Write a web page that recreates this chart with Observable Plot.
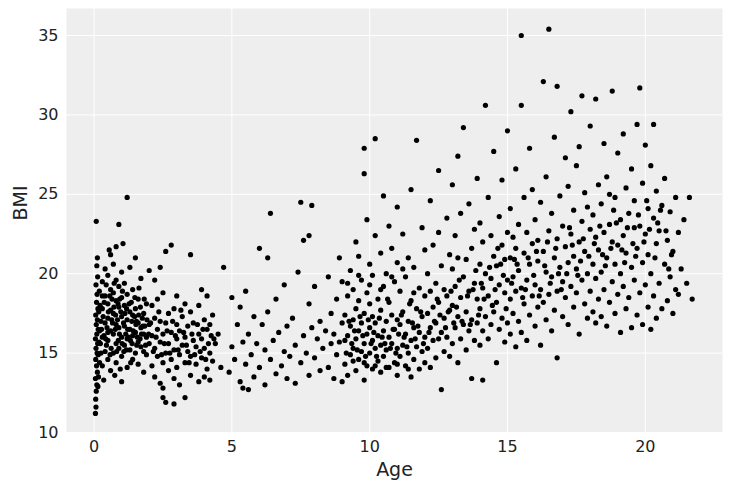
<!DOCTYPE html>
<html>
<head>
<meta charset="utf-8">
<script src="https://cdn.jsdelivr.net/npm/d3@7"></script>
<script src="https://cdn.jsdelivr.net/npm/@observablehq/plot@0.6"></script>
<style>
  body { margin: 0; background: #fff; }
</style>
</head>
<body>
<div id="chart"></div>
<script>
// [age, bmi] pairs
const infants = [[0.05,11.2],[0.07,11.6],[0.06,12.1],[0.08,12.6],[0.1,13.0],[0.05,13.4],[0.12,13.8],[0.09,14.2],[0.06,14.6],[0.11,15.0],[0.07,15.3],[0.13,15.6],[0.05,15.9],[0.1,16.2],[0.15,16.5],[0.08,16.8],[0.12,17.1],[0.06,17.4],[0.14,17.8],[0.09,18.2],[0.11,18.7],[0.07,19.3],[0.13,19.8],[0.1,20.5],[0.12,21.0],[0.08,23.3],[0.15,14.9],[0.18,15.7],[0.2,16.4],[0.17,17.6],[0.19,18.9],[0.16,13.5],[0.14,12.9],[0.2,14.4]]
const babies = [[0.3,14.2],[0.3,16.0],[0.3,17.8],[0.3,19.5],[0.4,15.1],[0.4,16.9],[0.4,18.6],[0.4,20.3],[0.5,14.6],[0.5,15.8],[0.5,17.2],[0.5,18.1],[0.5,19.9],[0.6,13.9],[0.6,16.4],[0.6,17.7],[0.6,19.0],[0.6,21.2],[0.7,15.0],[0.7,16.2],[0.7,17.5],[0.7,18.8],[0.7,20.6],[0.8,14.4],[0.8,15.6],[0.8,16.8],[0.8,18.3],[0.8,19.6],[0.8,21.7],[0.9,15.3],[0.9,16.6],[0.9,17.9],[0.9,19.2],[0.9,23.1],[1.0,13.2],[1.0,14.8],[1.0,16.0],[1.0,17.3],[1.0,18.5],[1.0,20.1],[1.1,15.5],[1.1,16.7],[1.1,18.0],[1.1,19.4],[1.2,14.1],[1.2,15.9],[1.2,17.1],[1.2,18.7],[1.2,24.8],[1.3,15.2],[1.3,16.5],[1.3,17.6],[1.3,20.4],[1.4,14.6],[1.4,16.1],[1.4,17.4],[1.4,19.0],[1.5,15.0],[1.5,16.3],[1.5,17.8],[1.5,21.0],[1.6,14.3],[1.6,15.7],[1.6,16.9],[1.6,18.4],[1.7,15.4],[1.7,16.6],[1.7,19.7],[1.8,13.8],[1.8,15.1],[1.8,16.2],[1.8,17.5],[1.9,14.9],[1.9,16.0],[1.9,18.1],[2.0,15.6],[2.0,16.8],[2.0,20.2],[0.35,13.3],[0.55,21.5],[0.75,13.6],[1.05,21.9],[0.45,15.5],[0.65,18.4],[0.85,17.1],[1.15,16.2],[1.35,18.2],[1.55,15.5],[1.75,17.2],[0.25,17.0],[0.25,15.0],[0.95,14.0]]
const babiesCore = [[0.23,15.6],[0.27,16.5],[0.33,17.3],[0.37,18.2],[0.42,15.9],[0.47,16.6],[0.52,17.6],[0.57,18.6],[0.62,15.3],[0.67,16.9],[0.72,17.9],[0.77,16.5],[0.82,15.1],[0.87,18.1],[0.92,16.2],[0.97,17.6],[1.02,15.6],[1.07,16.9],[1.12,17.5],[1.17,15.2],[1.22,16.5],[1.27,18.1],[1.32,15.8],[1.37,17.0],[1.42,16.4],[1.47,17.3],[1.52,16.8],[1.57,16.0],[1.62,17.4],[1.67,15.9],[1.72,16.2],[1.77,16.7],[1.82,18.4],[1.87,15.5],[1.92,17.1],[0.3,18.6],[0.44,19.3],[0.58,14.9],[0.73,19.4],[0.88,15.8],[1.03,18.9],[1.18,17.8],[1.33,14.4],[1.48,18.5],[1.63,19.1],[0.22,18.0],[0.36,16.1],[0.5,16.3],[0.64,17.1],[0.78,17.4],[0.93,18.4],[1.08,15.1],[1.24,16.0],[1.38,15.6],[1.54,17.0],[1.68,17.9],[1.84,16.7],[1.98,16.2]]
const kids = [[2.1,14.2],[2.1,16.1],[2.1,18.0],[2.2,13.5],[2.2,15.3],[2.2,17.2],[2.2,19.6],[2.3,14.8],[2.3,16.5],[2.3,18.4],[2.4,13.1],[2.4,15.7],[2.4,17.0],[2.4,20.4],[2.5,12.2],[2.5,12.8],[2.5,14.4],[2.5,16.2],[2.5,18.8],[2.6,11.9],[2.6,15.0],[2.6,16.9],[2.6,21.4],[2.7,13.9],[2.7,15.6],[2.7,17.5],[2.8,14.6],[2.8,16.3],[2.8,21.8],[2.9,11.8],[2.9,13.4],[2.9,15.2],[2.9,17.8],[3.0,14.1],[3.0,15.9],[3.0,16.8],[3.0,18.6],[3.1,13.0],[3.1,14.9],[3.1,16.4],[3.2,15.5],[3.2,17.3],[3.3,12.2],[3.3,14.4],[3.3,16.0],[3.3,18.1],[3.4,15.1],[3.4,16.7],[3.5,13.6],[3.5,14.8],[3.5,17.6],[3.5,21.2],[3.6,15.8],[3.6,16.9],[3.7,14.3],[3.7,15.4],[3.8,13.2],[3.8,16.2],[3.8,18.0],[3.9,14.7],[3.9,15.9],[3.9,19.0],[4.0,13.5],[4.0,15.3],[4.0,17.1],[4.1,14.0],[4.1,16.5],[4.1,18.6],[4.2,13.3],[4.2,15.0],[4.2,16.8],[4.3,14.5],[4.3,17.4],[4.4,15.6],[4.5,16.2],[4.6,14.1],[4.7,20.4]]
const kidsCore = [[2.05,16.9],[2.15,15.1],[2.25,16.0],[2.35,17.6],[2.45,14.9],[2.55,15.6],[2.65,16.4],[2.75,15.0],[2.85,17.0],[2.95,16.1],[3.05,15.2],[3.15,17.7],[3.25,16.3],[3.35,15.5],[3.45,14.4],[3.55,16.2],[3.65,14.9],[3.75,16.8],[3.85,15.1],[3.95,16.5],[4.05,14.6],[4.15,15.6],[4.25,16.1],[4.35,15.9]]
const middle = [[4.9,13.8],[5.0,15.4],[5.0,18.5],[5.1,14.6],[5.2,16.8],[5.3,13.2],[5.3,17.9],[5.4,12.8],[5.4,15.7],[5.5,14.3],[5.5,18.9],[5.6,12.7],[5.6,16.2],[5.7,14.9],[5.8,13.5],[5.8,17.3],[5.9,15.6],[6.0,14.1],[6.0,21.6],[6.1,16.8],[6.2,13.0],[6.2,15.2],[6.3,17.6],[6.3,21.0],[6.4,14.6],[6.4,23.8],[6.5,15.8],[6.6,13.7],[6.6,18.4],[6.7,16.3],[6.8,14.2],[6.9,15.1],[6.9,19.3],[7.0,13.4],[7.0,16.7],[7.1,14.8],[7.2,17.2],[7.3,13.1],[7.3,15.5],[7.4,20.1],[7.5,14.4],[7.5,24.5],[7.6,16.1],[7.6,22.1],[7.7,15.0],[7.8,13.6],[7.8,18.1],[7.8,22.4],[7.9,16.6],[7.9,24.3],[8.0,14.7],[8.0,19.2],[8.1,15.9],[8.2,13.9],[8.2,17.0],[8.3,15.3],[8.4,16.4],[8.5,14.1],[8.5,19.8],[8.6,15.6],[8.6,17.5],[8.7,13.4],[8.7,16.2],[8.8,14.9],[8.8,18.4],[8.9,15.7],[8.9,21.0],[9.0,13.2],[9.0,16.9],[9.0,19.5]]
const preteens = [[9.1,14.3],[9.1,15.8],[9.1,17.4],[9.2,13.6],[9.2,16.1],[9.2,18.6],[9.3,14.9],[9.3,16.7],[9.3,20.2],[9.4,15.3],[9.4,17.1],[9.4,19.0],[9.5,13.9],[9.5,15.9],[9.5,17.8],[9.5,22.0],[9.6,14.6],[9.6,16.4],[9.6,18.3],[9.6,21.1],[9.7,15.1],[9.7,16.9],[9.7,19.6],[9.8,13.3],[9.8,15.6],[9.8,17.5],[9.8,26.3],[9.8,27.9],[9.9,14.2],[9.9,16.2],[9.9,18.8],[9.9,23.4],[10.0,15.0],[10.0,16.6],[10.0,18.1],[10.0,20.6],[10.1,14.0],[10.1,15.8],[10.1,17.3],[10.1,19.9],[10.2,15.3],[10.2,16.9],[10.2,22.4],[10.2,28.5],[10.3,14.5],[10.3,16.1],[10.3,18.4],[10.4,13.8],[10.4,15.5],[10.4,17.7],[10.4,21.3],[10.5,14.8],[10.5,16.4],[10.5,19.2],[10.5,24.9],[10.6,15.2],[10.6,17.0],[10.6,20.0],[10.7,14.1],[10.7,16.0],[10.7,18.2],[10.7,23.0],[10.8,15.6],[10.8,17.4],[10.8,21.6],[10.9,14.4],[10.9,16.5],[10.9,19.5],[11.0,13.6],[11.0,15.3],[11.0,17.1],[11.0,20.7],[11.0,24.2],[11.1,14.8],[11.1,16.8],[11.1,18.9],[11.2,15.5],[11.2,17.6],[11.2,22.5],[11.3,14.2],[11.3,16.2],[11.3,19.8],[11.4,15.0],[11.4,17.0],[11.4,21.0],[11.5,13.5],[11.5,15.8],[11.5,18.3],[11.5,25.3],[11.6,14.6],[11.6,16.6],[11.6,20.4],[11.7,15.4],[11.7,17.8],[11.7,28.4],[11.8,14.0],[11.8,16.3],[11.8,19.1],[11.9,15.1],[11.9,17.3],[11.9,22.9],[12.0,14.4],[12.0,16.0],[12.0,18.6],[12.0,21.5]]
const preteensCore = [[9.15,15.0],[9.25,17.0],[9.35,15.6],[9.45,16.4],[9.55,15.2],[9.65,17.3],[9.75,16.1],[9.85,14.8],[9.95,17.1],[10.05,15.6],[10.15,16.3],[10.25,14.8],[10.35,17.2],[10.45,16.0],[10.55,15.6],[10.65,18.4],[10.75,15.3],[10.85,16.5],[10.95,15.0],[11.05,16.2],[11.15,17.4],[11.25,16.0],[11.35,15.4],[11.45,18.1],[11.55,16.9],[11.65,15.9],[11.75,16.7],[11.85,17.6],[11.95,15.6],[9.2,19.4],[9.6,19.9],[10.0,19.3],[10.4,19.0],[10.8,19.8],[11.2,20.3],[11.6,18.8],[9.4,14.5],[9.8,14.4],[10.2,14.2],[10.6,14.1],[11.0,14.3],[11.4,14.0]]
const teens = [[12.1,15.3],[12.1,17.5],[12.1,20.0],[12.2,14.1],[12.2,16.6],[12.2,18.9],[12.2,24.6],[12.3,15.8],[12.3,17.9],[12.3,21.8],[12.4,14.7],[12.4,16.9],[12.4,19.4],[12.5,15.9],[12.5,18.2],[12.5,22.6],[12.5,26.5],[12.6,12.7],[12.6,16.3],[12.6,20.5],[12.7,15.1],[12.7,17.2],[12.7,19.0],[12.8,16.0],[12.8,18.6],[12.8,23.5],[12.9,14.8],[12.9,17.7],[12.9,21.2],[13.0,15.6],[13.0,18.0],[13.0,20.3],[13.0,25.6],[13.1,16.6],[13.1,19.2],[13.1,22.4],[13.2,14.4],[13.2,17.3],[13.2,21.0],[13.2,27.4],[13.3,15.9],[13.3,18.5],[13.3,23.8],[13.4,16.8],[13.4,19.8],[13.4,29.2],[13.5,15.2],[13.5,17.6],[13.5,20.9],[13.6,16.4],[13.6,18.9],[13.6,24.4],[13.7,13.4],[13.7,17.1],[13.7,21.6],[13.8,15.8],[13.8,19.4],[13.8,22.8],[13.9,16.9],[13.9,18.4],[13.9,26.0],[14.0,15.5],[14.0,17.8],[14.0,20.6],[14.0,23.2],[14.1,13.3],[14.1,16.4],[14.1,19.1],[14.1,22.0],[14.2,17.3],[14.2,20.0],[14.2,30.6],[14.3,15.9],[14.3,18.6],[14.3,24.8],[14.4,16.8],[14.4,19.7],[14.4,22.4],[14.5,17.6],[14.5,21.1],[14.5,27.7],[14.6,14.4],[14.6,18.2],[14.6,20.5],[14.7,16.5],[14.7,19.3],[14.7,23.6],[14.8,17.2],[14.8,21.8],[14.8,25.9],[14.9,15.7],[14.9,18.8],[14.9,20.9],[15.0,16.9],[15.0,19.6],[15.0,22.6],[15.0,29.0]]
const teensCore = [[12.15,16.3],[12.35,17.0],[12.55,17.4],[12.75,16.6],[12.95,18.9],[13.15,17.9],[13.35,17.0],[13.55,18.6],[13.75,19.0],[13.95,17.4],[14.15,18.4],[14.35,20.4],[14.55,19.0],[14.75,20.6],[14.95,17.8],[12.45,18.4],[12.85,17.6],[13.25,19.6],[13.65,16.8],[14.05,19.4],[14.45,18.0],[14.85,19.9],[13.05,16.9],[13.85,20.2],[14.65,21.6]]
const olderTeens = [[15.1,16.2],[15.1,18.4],[15.1,21.0],[15.1,24.1],[15.2,17.5],[15.2,19.8],[15.2,22.3],[15.3,15.4],[15.3,18.9],[15.3,21.6],[15.3,26.6],[15.4,17.0],[15.4,20.2],[15.4,23.1],[15.5,16.3],[15.5,19.1],[15.5,30.6],[15.5,35.0],[15.6,18.1],[15.6,21.3],[15.6,24.8],[15.7,15.8],[15.7,19.6],[15.7,22.6],[15.8,17.4],[15.8,20.6],[15.8,27.9],[15.9,18.6],[15.9,21.9],[15.9,25.3],[16.0,16.7],[16.0,19.3],[16.0,23.4],[16.1,17.9],[16.1,20.8],[16.1,22.1],[16.2,15.5],[16.2,19.0],[16.2,24.5],[16.3,18.2],[16.3,21.4],[16.3,32.1],[16.4,17.1],[16.4,20.1],[16.4,26.1],[16.5,18.7],[16.5,22.7],[16.5,35.4],[16.6,16.4],[16.6,19.8],[16.6,23.8],[16.7,17.7],[16.7,21.0],[16.7,28.6],[16.8,14.7],[16.8,18.9],[16.8,22.2],[16.8,31.8],[16.9,20.4],[16.9,24.9],[17.0,17.3],[17.0,19.5],[17.0,23.0],[17.1,18.5],[17.1,21.7],[17.1,27.3],[17.2,16.8],[17.2,20.7],[17.2,25.5],[17.3,19.2],[17.3,22.5],[17.3,30.2],[17.4,17.9],[17.4,21.1],[17.4,24.0],[17.5,18.8],[17.5,20.3],[17.5,26.8],[17.6,16.2],[17.6,22.0],[17.6,28.0],[17.7,19.6],[17.7,23.3],[17.7,31.2],[17.8,18.1],[17.8,21.4],[17.8,25.1],[17.9,17.2],[17.9,20.0],[17.9,24.2],[18.0,18.9],[18.0,22.8],[18.0,29.3]]
const olderCore = [[15.15,19.4],[15.35,20.6],[15.55,18.5],[15.75,21.0],[15.95,19.9],[16.15,18.6],[16.35,20.5],[16.55,19.4],[16.75,21.6],[16.95,19.0],[17.15,20.0],[17.35,21.8],[17.55,19.9],[17.75,22.2],[17.95,21.1],[15.25,20.9],[15.65,19.0],[16.05,21.4],[16.45,22.0],[16.85,20.0],[17.25,22.9],[17.65,20.8]]
const adults = [[18.1,17.6],[18.1,20.6],[18.1,23.7],[18.2,16.9],[18.2,19.7],[18.2,22.3],[18.2,31.0],[18.3,18.4],[18.3,21.5],[18.3,25.6],[18.4,17.3],[18.4,20.1],[18.4,24.4],[18.5,19.0],[18.5,22.6],[18.5,28.2],[18.6,16.7],[18.6,21.0],[18.6,26.1],[18.7,18.2],[18.7,23.1],[18.7,25.0],[18.8,19.5],[18.8,22.0],[18.8,31.5],[18.9,17.5],[18.9,20.6],[18.9,24.8],[19.0,18.7],[19.0,21.8],[19.0,27.6],[19.1,16.3],[19.1,20.0],[19.1,23.4],[19.2,19.2],[19.2,22.4],[19.2,28.8],[19.3,17.8],[19.3,21.3],[19.3,25.4],[19.4,18.5],[19.4,23.8],[19.5,16.6],[19.5,20.4],[19.5,26.6],[19.6,19.6],[19.6,22.9],[19.6,24.6],[19.7,17.4],[19.7,21.6],[19.7,29.4],[19.8,18.8],[19.8,23.0],[19.8,31.7],[19.9,16.8],[19.9,20.7],[19.9,25.7],[20.0,19.3],[20.0,22.5],[20.0,28.1],[20.1,17.9],[20.1,21.2],[20.1,24.1],[20.2,16.5],[20.2,20.0],[20.2,26.8],[20.3,18.6],[20.3,23.5],[20.3,29.4],[20.4,17.2],[20.4,21.9],[20.4,25.2],[20.5,19.4],[20.5,22.7],[20.6,17.8],[20.6,24.3],[20.7,20.6],[20.7,26.0],[20.8,18.3],[20.8,22.1],[20.9,19.8],[20.9,23.9],[21.0,17.5],[21.0,21.4],[21.1,19.0],[21.1,24.8],[21.2,18.7],[21.2,22.6],[21.3,20.3],[21.4,23.4],[21.5,19.4],[21.6,24.8],[21.7,18.4]]
const adultsCore = [[18.15,21.9],[18.35,23.0],[18.55,20.5],[18.75,21.6],[18.95,23.2],[19.15,21.5],[19.35,22.9],[19.55,21.9],[19.75,23.7],[19.95,22.0],[20.15,22.8],[20.35,21.0],[20.55,24.0],[20.75,22.7],[20.95,21.2],[18.45,21.2],[18.85,24.0],[19.25,20.7],[19.65,21.1],[20.05,24.6],[20.45,23.2],[20.85,20.3]]

const xTicks = [0, 5, 10, 15, 20]
const yTicks = [10, 15, 20, 25, 30, 35]

const points = [...infants, ...babies, ...babiesCore, ...kids, ...kidsCore, ...middle,
  ...preteens, ...preteensCore, ...teens, ...teensCore, ...olderTeens, ...olderCore, ...adults, ...adultsCore]

const chart = Plot.plot({
  width: 731,
  height: 491,
  marginLeft: 66,
  marginRight: 9,
  marginTop: 8,
  marginBottom: 59,
  style: { fontFamily: "DejaVu Sans", fontSize: "16px", color: "#222", background: "#fff" },
  x: { domain: [-1.0, 22.8], ticks: xTicks, label: null },
  y: { domain: [10, 36.7], ticks: yTicks, label: null },
  marks: [
    Plot.frame({ fill: "#eeeeee", stroke: null }),
    Plot.gridX(xTicks, { stroke: "#fff", strokeOpacity: 1, strokeWidth: 1 }),
    Plot.gridY(yTicks, { stroke: "#fff", strokeOpacity: 1, strokeWidth: 1 }),
    Plot.axisX(xTicks, { tickSize: 0, tickPadding: 8, fontSize: 16 }),
    Plot.axisY(yTicks, { tickSize: 0, tickPadding: 8, fontSize: 16 }),
    Plot.dot(points, { x: d => d[0], y: d => d[1], r: 2.6, fill: "#000", stroke: null }),
    Plot.text(["Age"], { frameAnchor: "bottom", dy: 43, fontSize: 19, fill: "#222" }),
    Plot.text(["BMI"], { frameAnchor: "left", dx: -46, rotate: -90, fontSize: 19, fill: "#222" })
  ]
})

d3.select("#chart").append(() => chart)
</script>
</body>
</html>
